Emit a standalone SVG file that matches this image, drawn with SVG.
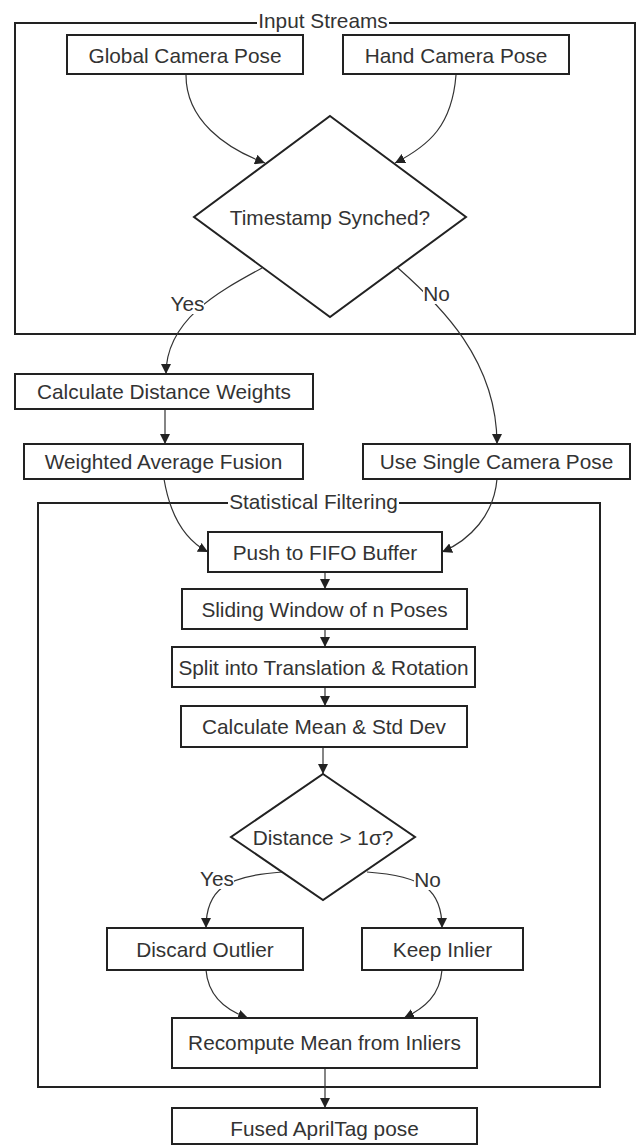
<svg xmlns="http://www.w3.org/2000/svg" width="637" height="1145" viewBox="0 0 637 1145">
<defs>
<style>
.box{fill:#fff;stroke:#222;stroke-width:2}
.grp{fill:none;stroke:#222;stroke-width:2}
.t{font-family:"Liberation Sans",Arial,sans-serif;font-size:20.8px;fill:#333;text-anchor:middle}
.e{fill:none;stroke:#333;stroke-width:1.2}
.lblbg{fill:#fff}
</style>
<marker id="ah" viewBox="0 0 10 10" refX="10" refY="5" markerWidth="10" markerHeight="10" markerUnits="userSpaceOnUse" orient="auto">
<path d="M0,0 L10,5 L0,10 z" fill="#222"/>
</marker>
</defs>
<rect width="637" height="1145" fill="#fff"/>

<g id="cluster-input">
<rect class="grp" x="15" y="23" width="620" height="311"/>
<rect class="lblbg" x="257" y="8" width="132" height="24"/>
<text class="t" x="323" y="27.5">Input Streams</text>
</g>
<g id="cluster-stats">
<rect class="grp" x="38" y="503" width="562" height="584"/>
<rect class="lblbg" x="228" y="490" width="171" height="24"/>
<text class="t" x="313.5" y="508.5">Statistical Filtering</text>
</g>

<g id="connectors">
<path class="e" d="M186,75 C186,120 225,148 265,163" marker-end="url(#ah)"/>
<path class="e" d="M456,75 C452,125 430,145 395,163" marker-end="url(#ah)"/>
<path class="e" d="M262,268 C218,292 166,320 166,374" marker-end="url(#ah)"/>
<path class="e" d="M398,268 C440,305 497,360 497,444" marker-end="url(#ah)"/>
<path class="e" d="M165,409 L165,444" marker-end="url(#ah)"/>
<path class="e" d="M164,479 C170,515 185,540 208,552" marker-end="url(#ah)"/>
<path class="e" d="M497,479 C494,515 470,540 442,552" marker-end="url(#ah)"/>
<path class="e" d="M325,572 L325,589" marker-end="url(#ah)"/>
<path class="e" d="M325,629 L325,647" marker-end="url(#ah)"/>
<path class="e" d="M325,687 L325,706" marker-end="url(#ah)"/>
<path class="e" d="M323,747 L323,774" marker-end="url(#ah)"/>
<path class="e" d="M282,872 C225,876 206,890 206,928" marker-end="url(#ah)"/>
<path class="e" d="M367,872 C424,876 442,890 442,928" marker-end="url(#ah)"/>
<path class="e" d="M206,970 C208,995 225,1010 248,1018" marker-end="url(#ah)"/>
<path class="e" d="M442,970 C440,995 425,1008 404,1018" marker-end="url(#ah)"/>
<path class="e" d="M325,1068 L325,1108" marker-end="url(#ah)"/>
<g id="edge-labels">
<rect class="lblbg" x="171" y="292" width="33" height="22"/>
<text class="t" x="187.5" y="310.5">Yes</text>
<rect class="lblbg" x="423" y="282" width="27" height="22"/>
<text class="t" x="436.5" y="300.5">No</text>
<rect class="lblbg" x="200" y="867" width="34" height="22"/>
<text class="t" x="217" y="885.5">Yes</text>
<rect class="lblbg" x="414" y="868" width="27" height="22"/>
<text class="t" x="427.5" y="886.5">No</text>
</g>
</g>

<g id="n-global"><rect class="box" x="67" y="35" width="236" height="39"/><text class="t" x="185" y="62.5">Global Camera Pose</text></g>
<g id="n-hand"><rect class="box" x="343" y="35" width="226" height="39"/><text class="t" x="456" y="62.5">Hand Camera Pose</text></g>
<g id="n-sync"><path class="box" d="M330,116 L466,217 L330,317 L194,217 Z"/><text class="t" x="330" y="224.5">Timestamp Synched?</text></g>
<g id="n-weights"><rect class="box" x="15" y="374" width="298" height="35"/><text class="t" x="164" y="399">Calculate Distance Weights</text></g>
<g id="n-fusion"><rect class="box" x="24" y="444" width="279" height="35"/><text class="t" x="163.5" y="469">Weighted Average Fusion</text></g>
<g id="n-single"><rect class="box" x="363" y="444" width="267" height="35"/><text class="t" x="496.5" y="469">Use Single Camera Pose</text></g>
<g id="n-push"><rect class="box" x="208" y="532" width="234" height="40"/><text class="t" x="325" y="559.5">Push to FIFO Buffer</text></g>
<g id="n-window"><rect class="box" x="182" y="589" width="285" height="40"/><text class="t" x="324.5" y="616.5">Sliding Window of n Poses</text></g>
<g id="n-split"><rect class="box" x="172" y="647" width="303" height="40"/><text class="t" x="323.5" y="674.5">Split into Translation &amp; Rotation</text></g>
<g id="n-mean"><rect class="box" x="181" y="706" width="286" height="41"/><text class="t" x="324" y="734">Calculate Mean &amp; Std Dev</text></g>
<g id="n-dist"><path class="box" d="M323,774 L415,837 L323,900 L231,837 Z"/><text class="t" x="323" y="844.5">Distance &gt; 1σ?</text></g>
<g id="n-discard"><rect class="box" x="107" y="928" width="196" height="42"/><text class="t" x="205" y="956.5">Discard Outlier</text></g>
<g id="n-keep"><rect class="box" x="362" y="928" width="161" height="42"/><text class="t" x="442.5" y="956.5">Keep Inlier</text></g>
<g id="n-recompute"><rect class="box" x="172" y="1018" width="305" height="50"/><text class="t" x="324.5" y="1050">Recompute Mean from Inliers</text></g>
<g id="n-fused"><rect class="box" x="172" y="1108" width="305" height="36"/><text class="t" x="324.5" y="1135.5">Fused AprilTag pose</text></g>
</svg>
